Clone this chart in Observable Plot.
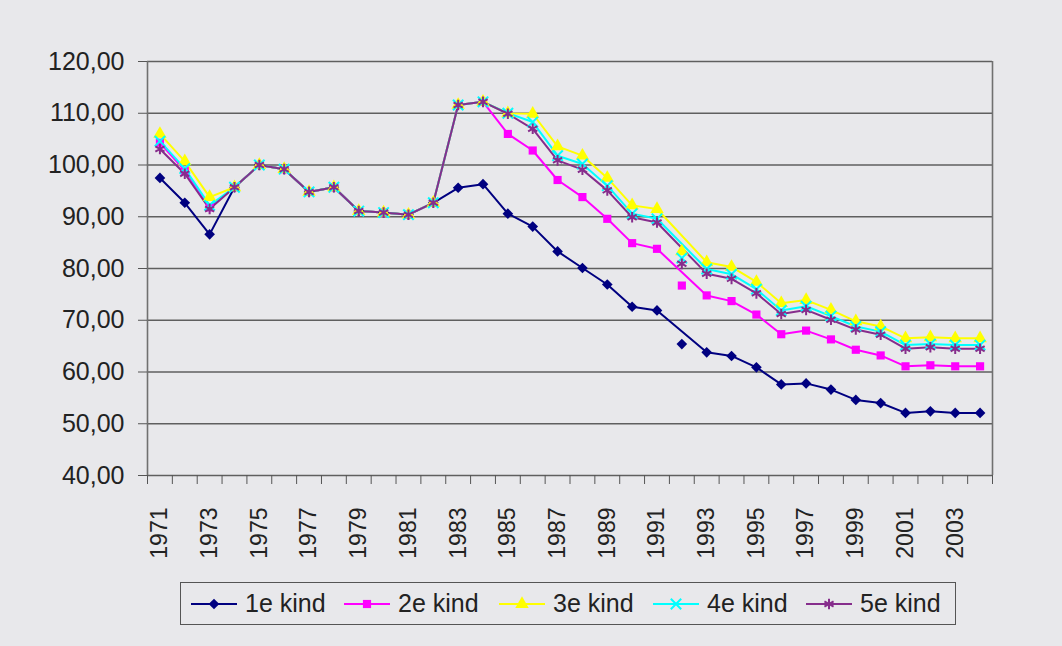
<!DOCTYPE html>
<html>
<head>
<meta charset="utf-8">
<script src="https://cdn.jsdelivr.net/npm/d3@7"></script>
<script src="https://cdn.jsdelivr.net/npm/@observablehq/plot@0.6"></script>
<style>
  html, body { margin: 0; padding: 0; background: #e8e8eb; width: 1062px; height: 646px; overflow: hidden; }
  body { position: relative; font-family: "Liberation Sans", Arial, sans-serif; }
  #chart { position: absolute; left: 0; top: 0; }
  #legend { position: absolute; left: 180px; top: 582px; width: 774px; height: 41px; border: 1.5px solid #555; }
  .item { position: absolute; top: 0; height: 41px; display: flex; align-items: center; font-size: 25px; color: #222; white-space: nowrap; }
  .item svg { margin-right: 7px; }
</style>
</head>
<body>
<div id="chart"></div>
<div id="legend"></div>
<script>
const years = [1971,1972,1973,1974,1975,1976,1977,1978,1979,1980,1981,1982,1983,1984,1985,1986,1987,1988,1989,1990,1991,1992,1993,1994,1995,1996,1997,1998,1999,2000,2001,2002,2003,2004];
const kind1 = [97.5,92.7,86.6,95.7,100.0,99.2,94.8,95.7,91.1,90.8,90.4,92.7,95.6,96.3,90.6,88.1,83.3,80.1,76.9,72.6,71.9,65.4,63.8,63.1,60.9,57.6,57.8,56.6,54.6,54.0,52.1,52.4,52.1,52.1];
const kind2 = [104.3,98.9,91.8,95.7,100.0,99.2,94.8,95.7,91.1,90.8,90.4,92.7,111.6,112.2,106.0,102.8,97.1,93.8,89.6,84.9,83.8,76.7,74.8,73.7,71.1,67.3,68.0,66.3,64.3,63.2,61.1,61.3,61.1,61.1];
const kind3 = [106.0,100.7,93.8,95.7,100.0,99.2,94.8,95.7,91.1,90.8,90.4,92.7,111.6,112.2,110.0,109.9,103.6,101.8,97.5,92.2,91.5,83.3,81.2,80.3,77.4,73.3,73.9,72.0,69.8,68.8,66.5,66.7,66.5,66.5];
const kind4 = [104.6,99.3,92.2,95.7,100.0,99.2,94.8,95.7,91.1,90.8,90.4,92.7,111.6,112.2,110.0,108.3,101.8,100.2,96.0,90.6,89.6,82.0,79.9,78.9,76.0,71.9,72.7,70.8,68.8,67.8,65.2,65.4,65.2,65.2];
const kind5 = [103.1,98.3,91.5,95.7,100.0,99.2,94.8,95.7,91.1,90.8,90.4,92.7,111.6,112.2,109.9,107.0,100.9,99.1,95.1,89.9,88.9,80.9,79.0,78.0,75.2,71.2,72.0,70.1,68.2,67.2,64.5,64.8,64.5,64.5];
const seriesNames = ["1e kind","2e kind","3e kind","4e kind","5e kind"];
const yTicks = [40,50,60,70,80,90,100,110,120];
const xLabelYears = [1971,1973,1975,1977,1979,1981,1983,1985,1987,1989,1991,1993,1995,1997,1999,2001,2003];
const gapYear = 1992; // markers shown, but lines skip this year (as in the original)

const styles = [
  {color: "#000080", symbol: "diamond2", filled: true,  r: 4.8},
  {color: "#ff00ff", symbol: "square",   filled: true,  r: 4.6},
  {color: "#ffff00", symbol: "triangle", filled: true,  r: 5.0},
  {color: "#00ffff", symbol: "times",    filled: false, r: 4.8},
  {color: "#862d8c", symbol: "asterisk", filled: false, r: 5.0}
];
const allValues = [kind1, kind2, kind3, kind4, kind5];
const series = seriesNames.map((name, i) => years.map((yr, j) => ({year: yr, value: allValues[i][j], name})));

const boundaries = years.map(y => y - 0.5).concat([years[years.length - 1] + 0.5]);
const fmt = d => d.toFixed(2).replace(".", ",");

const marks = [
  Plot.ruleY(yTicks, {stroke: "#5f5f5f", strokeWidth: 1.6}),
  Plot.ruleX([boundaries[0], boundaries[boundaries.length - 1]], {stroke: "#707070", strokeWidth: 1.6}),
  Plot.axisY({ticks: yTicks, tickSize: 9, tickPadding: 14, tickFormat: fmt, fontSize: 25, stroke: "#555", fill: "#222", label: null}),
  Plot.axisX({ticks: boundaries, tickSize: 9, tickFormat: () => "", stroke: "#555", label: null}),
  Plot.axisX({ticks: xLabelYears, tickSize: 0, tickPadding: 32, tickRotate: -90, tickFormat: d => String(d), fontSize: 23, fill: "#222", label: null})
];
series.forEach((data, i) => {
  const s = styles[i];
  marks.push(Plot.line(data.filter(d => d.year !== gapYear), {x: "year", y: "value", stroke: s.color, strokeWidth: 2}));
});
series.forEach((data, i) => {
  const s = styles[i];
  marks.push(Plot.dot(data, s.filled
    ? {x: "year", y: "value", symbol: () => s.symbol, fill: s.color, stroke: "none", r: s.r}
    : {x: "year", y: "value", symbol: () => s.symbol, stroke: s.color, strokeWidth: 2, r: s.r}));
});

const chart = Plot.plot({
  width: 1062,
  height: 575,
  marginLeft: 147,
  marginRight: 70,
  marginTop: 61,
  marginBottom: 100,
  style: {background: "transparent", fontFamily: "'Liberation Sans', Arial, sans-serif", fontSize: "23px", color: "#222"},
  x: {type: "linear", domain: [boundaries[0], boundaries[boundaries.length - 1]]},
  y: {domain: [40, 120]},
  symbol: {type: "identity"},
  marks
});
document.getElementById("chart").appendChild(chart);

// Legend
const legend = document.getElementById("legend");
const lefts = [9, 162, 317, 471, 624];
const symMap = {diamond2: d3.symbolDiamond2, square: d3.symbolSquare, triangle: d3.symbolTriangle, times: d3.symbolTimes, asterisk: d3.symbolAsterisk};
seriesNames.forEach((name, i) => {
  const s = styles[i];
  const item = document.createElement("div");
  item.className = "item";
  item.style.left = lefts[i] + "px";
  const svg = d3.create("svg").attr("width", 48).attr("height", 20);
  svg.append("line").attr("x1", 1).attr("x2", 47).attr("y1", 10).attr("y2", 10).attr("stroke", s.color).attr("stroke-width", 2);
  const p = svg.append("path").attr("transform", "translate(24,10)").attr("d", d3.symbol(symMap[s.symbol], Math.PI * s.r * s.r)());
  if (s.filled) p.attr("fill", s.color); else p.attr("fill", "none").attr("stroke", s.color).attr("stroke-width", 2);
  item.appendChild(svg.node());
  const t = document.createElement("span");
  t.textContent = name;
  item.appendChild(t);
  legend.appendChild(item);
});
</script>
</body>
</html>
